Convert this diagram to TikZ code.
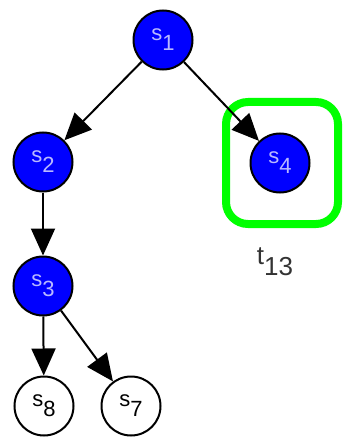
\documentclass[tikz,border=0pt]{standalone}
\usepackage{fontspec}
\setmainfont{Liberation Sans}
\usetikzlibrary{arrows.meta}
\definecolor{nodeblue}{RGB}{0,0,255}
\definecolor{labelblue}{RGB}{185,185,255}
\definecolor{markgreen}{RGB}{0,255,0}
\tikzset{
  expanded/.style={circle,draw=black,line width=2pt,fill=nodeblue,text=labelblue,
    minimum size=59pt,inner sep=0pt},
  frontier/.style={expanded,fill=white,text=black},
  succ/.style={line width=2pt,-{Triangle[length=27pt,width=24pt]}}
}
% state name with its index set low
\newcommand{\sname}[1]{\fontsize{22}{22}\selectfont s\raisebox{-10pt}{#1}}

\begin{document}
\begin{tikzpicture}[x=1pt,y=-1pt]
  \useasboundingbox (0,0) rectangle (347,441);

  % goal marker
  \draw[markgreen,line width=8pt,rounded corners=22pt] (226,102) rectangle (338,224);
  \node[text=black!80] (t13) at (275,262) {\fontsize{26}{26}\selectfont t\raisebox{-11pt}{13}};

  \node[expanded] (s1) at (163,40) {\sname{1}};
  \node[expanded] (s2) at (43,162) {\sname{2}};
  \node[expanded] (s4) at (280,163) {\sname{4}};
  \node[expanded] (s3) at (43,286) {\sname{3}};
  \node[frontier] (s8) at (44,406) {\sname{8}};
  \node[frontier] (s7) at (131,406) {\sname{7}};

  \foreach \a/\b in {s1/s2,s1/s4,s2/s3,s3/s8,s3/s7}
    \draw[succ] (\a) -- (\b);
\end{tikzpicture}
\end{document}
